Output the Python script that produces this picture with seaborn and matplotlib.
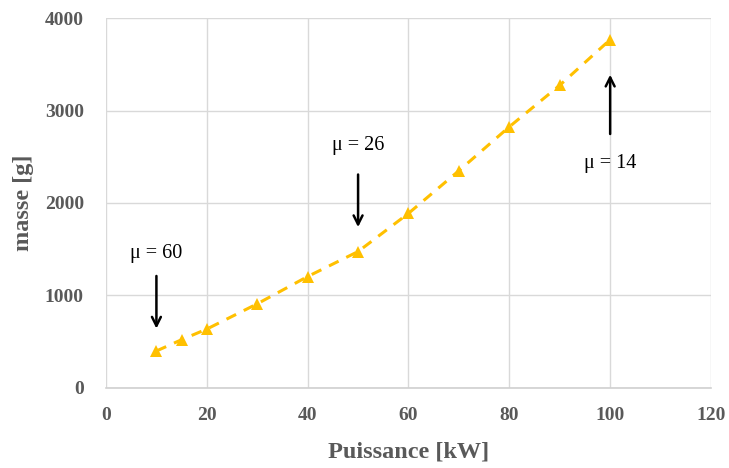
import matplotlib
matplotlib.use("Agg")
import matplotlib.pyplot as plt
import seaborn as sns
import pandas as pd

puissance = [10, 15, 20, 30, 40, 50, 60, 70, 80, 90, 100]
masse = [400, 522, 637, 910, 1205, 1475, 1888, 2349, 2824, 3273, 3766]
x_ticks = [0, 20, 40, 60, 80, 100, 120]
y_ticks = [0, 1000, 2000, 3000, 4000]
annot_labels = ["μ = 60", "μ = 26", "μ = 14"]
annot_x = [10, 50, 100]
annot_text_y = [1457, 2626, 2428]
arrow_tail_y = [1241, 2338, 2716]
arrow_head_y = [612, 1709, 3417]

sns.set_theme(style="whitegrid")
plt.rcParams['font.family'] = ['Liberation Serif', 'DejaVu Serif']

df = pd.DataFrame({"Puissance": puissance, "masse": masse})

fig = plt.figure(figsize=(7.29, 4.68), dpi=100)
ax = fig.add_axes([0.1454, 0.171, 0.9753 - 0.1454, 0.9615 - 0.171])

sns.lineplot(data=df, x="Puissance", y="masse", ax=ax, color="#FFC000",
             linewidth=2.2, marker="^", markersize=8, markeredgewidth=0,
             dashes=False)
ax.lines[0].set_linestyle((0, (3.5, 2.8)))

for lab, xx, ty, t0, t1 in zip(annot_labels, annot_x, annot_text_y, arrow_tail_y, arrow_head_y):
    ax.annotate("", xy=(xx, t1), xytext=(xx, t0),
                arrowprops=dict(arrowstyle="->", color="black", lw=1.8,
                                mutation_scale=16))
    ax.text(xx, ty, lab, ha="center", va="center", fontsize=14.5, color="black")

ax.set_xlim(0, 120)
ax.set_ylim(0, 4000)
ax.set_xticks(x_ticks)
ax.set_yticks(y_ticks)
ax.grid(True, color="#d9d9d9", linewidth=1.0)
for s in ax.spines.values():
    s.set_visible(False)
ax.spines["bottom"].set_visible(True)
ax.spines["bottom"].set_color("#d0d0d0")
ax.spines["bottom"].set_linewidth(1.2)

for lbl in ax.get_xticklabels() + ax.get_yticklabels():
    lbl.set_fontweight("bold")
    lbl.set_color("#595959")
    lbl.set_fontsize(14)
ax.tick_params(axis="x", pad=14, length=0)
ax.tick_params(axis="y", pad=16, length=0)

ax.set_xlabel("Puissance [kW]", fontsize=17.5, fontweight="bold", color="#595959", labelpad=12)
ax.set_ylabel("masse [g]", fontsize=17.5, fontweight="bold", color="#595959", labelpad=8)

fig.savefig("out.png", dpi=100)
